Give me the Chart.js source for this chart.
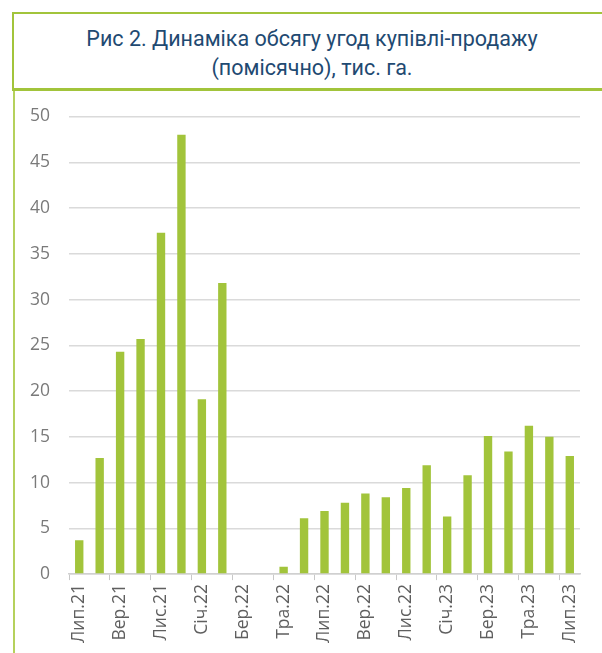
<!DOCTYPE html>
<html>
<head>
<meta charset="utf-8">
<script src="https://cdn.jsdelivr.net/npm/chart.js@4.4.0/dist/chart.umd.min.js"></script>
<style>
  body { margin: 0; background: #fff; width: 602px; height: 653px; overflow: hidden; position: relative; }
  #title-box {
    position: absolute; left: 12px; top: 12px; width: 600px; height: 74px;
    border-left: 2px solid #a2c43b; border-top: 2px solid #a2c43b; border-bottom: 3px solid #a2c43b;
    box-sizing: content-box;
    font-family: Roboto, sans-serif; font-size: 21.5px; color: #1f4a72;
    text-align: center; line-height: 28px;
  }
  #title-box div { position: absolute; left: 0; width: 596px; }
  #side-line { position: absolute; left: 13px; top: 91px; width: 2px; height: 562px; background: #b5d15c; }
  #chart-wrap { position: absolute; left: 0px; top: 87px; width: 602px; height: 566px; }
</style>
</head>
<body>
<div id="title-box">
  <div style="top:11px">Рис 2. Динаміка обсягу угод купівлі-продажу</div>
  <div style="top:40px">(помісячно), тис. га.</div>
</div>
<div id="chart-wrap"><canvas id="chart"></canvas></div>
<div id="side-line"></div>
<script>
const months = [
    "Лип.21", "Сер.21", "Вер.21", "Жов.21", "Лис.21", "Гру.21",
    "Січ.22", "Лют.22", "Бер.22", "Кві.22", "Тра.22", "Чер.22",
    "Лип.22", "Сер.22", "Вер.22", "Жов.22", "Лис.22", "Гру.22",
    "Січ.23", "Лют.23", "Бер.23", "Кві.23", "Тра.23", "Чер.23", "Лип.23"
];
const volume = [
    3.7, 12.7, 24.3, 25.7, 37.3, 48.0,
    19.1, 31.8, 0, 0, 0.8, 6.1,
    6.9, 7.8, 8.8, 8.4, 9.4, 11.9,
    6.3, 10.8, 15.1, 13.4, 16.2, 15.0, 12.9
];
const yTicks = { min: 0, max: 50, step: 5 };

const chartCanvas = document.getElementById("chart");

let myChart = new Chart(chartCanvas, {
    type: 'bar',
    data: {
        labels: months,
        datasets: [{
            data: volume,
            backgroundColor: '#a2c43b',
            barPercentage: 0.41,
            categoryPercentage: 1
        }]
    },
    options: {
        responsive: true,
        maintainAspectRatio: false,
        animation: false,
        layout: { padding: { top: 8, right: 22, left: 11, bottom: 6 } },
        plugins: {
            legend: { display: false },
            tooltip: { enabled: false }
        },
        scales: {
            x: {
                grid: {
                    offset: true,
                    drawOnChartArea: false,
                    tickLength: 6,
                    tickColor: (ctx) => (ctx.index % 2 == 0 && ctx.index < months.length) ? '#c8c8c8' : 'rgba(0,0,0,0)'
                },
                border: { color: '#d0d0d0', width: 1.5 },
                ticks: {
                    autoSkip: false,
                    maxRotation: 90,
                    minRotation: 90,
                    color: '#5f5f5f',
                    font: { family: 'Open Sans', size: 17.5 },
                    padding: 4,
                    callback: function(value, index) {
                        return index % 2 == 0 ? this.getLabelForValue(value) : '';
                    }
                }
            },
            y: {
                min: yTicks.min,
                max: yTicks.max,
                ticks: {
                    stepSize: yTicks.step,
                    color: '#7a7a7a',
                    font: { family: 'Open Sans', size: 17.5 },
                    padding: 19
                },
                grid: { color: '#dadada', lineWidth: 1.5, drawTicks: false },
                border: { display: false }
            }
        }
    }
});
</script>
</body>
</html>
